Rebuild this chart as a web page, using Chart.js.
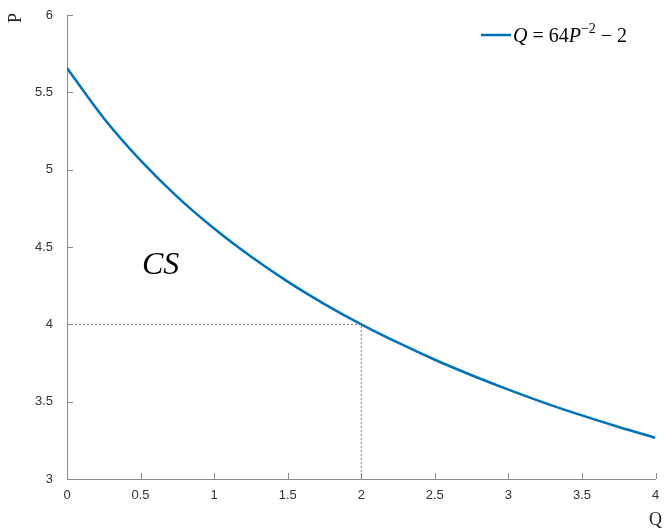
<!DOCTYPE html>
<html>
<head>
<meta charset="utf-8">
<script src="https://cdn.jsdelivr.net/npm/chart.js@4"></script>
<style>
  html, body { margin: 0; padding: 0; background: #fff; }
  #wrap { width: 664px; height: 530px; position: relative; }
</style>
</head>
<body>
<div id="wrap"><canvas id="c"></canvas></div>
<script>
// demand curve points
const qValues = [0, 0.25, 0.5, 0.75, 1, 1.25, 1.5, 1.75, 2, 2.25, 2.5, 2.75, 3, 3.25, 3.5, 3.75, 4];
const pValues = [5.657, 5.333, 5.06, 4.824, 4.619, 4.438, 4.276, 4.131, 4.0, 3.881, 3.771, 3.671, 3.578, 3.491, 3.411, 3.336, 3.266];

// dotted guide to the point (2, 4)
const guideQ = [0, 2, 2];
const guideP = [4, 4, 3];

const xTicks = [0, 0.5, 1, 1.5, 2, 2.5, 3, 3.5, 4];
const yTicks = [3, 3.5, 4, 4.5, 5, 5.5, 6];

const axisColor = '#8a8a8a';
const textColor = '#333';
const serif = '"Liberation Serif", "Times New Roman", serif';
const sans = '"Liberation Sans", Arial, sans-serif';

const curve = qValues.map((q, i) => ({ x: q, y: pValues[i] }));
const guide = guideQ.map((q, i) => ({ x: q, y: guideP[i] }));

// inward ticks, axis labels, CS note and legend
const decor = {
  id: 'decor',
  afterDraw(chart) {
    const { ctx, chartArea: a, scales: { x, y } } = chart;
    ctx.save();
    ctx.strokeStyle = axisColor;
    ctx.lineWidth = 1;
    ctx.beginPath();
    xTicks.forEach(t => {
      const px = Math.round(x.getPixelForValue(t)) + 0.5;
      ctx.moveTo(px, a.bottom);
      ctx.lineTo(px, a.bottom - 6);
    });
    yTicks.forEach(t => {
      const py = Math.round(y.getPixelForValue(t)) + 0.5;
      ctx.moveTo(a.left, py);
      ctx.lineTo(a.left + 6, py);
    });
    ctx.stroke();

    ctx.fillStyle = '#222';
    ctx.font = '18px ' + serif;
    ctx.textAlign = 'center';
    ctx.textBaseline = 'middle';
    ctx.fillText('Q', a.right, 520);
    ctx.save();
    ctx.translate(16, 18);
    ctx.rotate(-Math.PI / 2);
    ctx.fillText('P', 0, 0);
    ctx.restore();

    ctx.fillStyle = '#000';
    ctx.font = 'italic 32px ' + serif;
    ctx.textAlign = 'left';
    ctx.textBaseline = 'alphabetic';
    ctx.fillText('CS', 142, 274);

    // legend
    const ly = 35;
    ctx.strokeStyle = '#0072BD';
    ctx.lineWidth = 2.5;
    ctx.beginPath();
    ctx.moveTo(481, ly);
    ctx.lineTo(511, ly);
    ctx.stroke();
    let lx = 513;
    const base = 42;
    const parts = [
      ['italic 20px ' + serif, 'Q', 0],
      ['20px ' + serif, ' = 64', 0],
      ['italic 20px ' + serif, 'P', 0],
      ['14px ' + serif, '\u22122', -9],
      ['20px ' + serif, ' \u2212 2', 0]
    ];
    parts.forEach(([f, s, dy]) => {
      ctx.font = f;
      ctx.fillText(s, lx, base + dy);
      lx += ctx.measureText(s).width;
    });
    ctx.restore();
  }
};

new Chart(document.getElementById('c'), {
  type: 'scatter',
  data: {
    datasets: [
      {
        data: guide,
        showLine: true,
        borderColor: '#777',
        borderWidth: 1,
        borderDash: [2, 2],
        pointRadius: 0
      },
      {
        data: curve,
        showLine: true,
        borderColor: '#0072BD',
        borderWidth: 2.5,
        pointRadius: 0,
        cubicInterpolationMode: 'monotone'
      }
    ]
  },
  options: {
    responsive: true,
    maintainAspectRatio: false,
    animation: false,
    layout: { padding: { top: 15, right: 8.5, left: 0, bottom: 0 } },
    plugins: { legend: { display: false }, tooltip: { enabled: false } },
    scales: {
      x: {
        type: 'linear',
        min: 0,
        max: 4,
        afterFit: s => { s.height = 51; },
        afterBuildTicks: s => { s.ticks = xTicks.map(v => ({ value: v })); },
        grid: { display: false },
        border: { color: axisColor, width: 1 },
        ticks: { color: textColor, font: { family: sans, size: 13 }, padding: 1, maxRotation: 0, callback: v => String(v) }
      },
      y: {
        type: 'linear',
        min: 3,
        max: 6,
        afterFit: s => { s.width = 67; },
        afterBuildTicks: s => { s.ticks = yTicks.map(v => ({ value: v })); },
        grid: { display: false },
        border: { color: axisColor, width: 1 },
        ticks: { color: textColor, font: { family: sans, size: 13 }, padding: 6, callback: v => String(v) }
      }
    }
  },
  plugins: [decor]
});
</script>
</body>
</html>
